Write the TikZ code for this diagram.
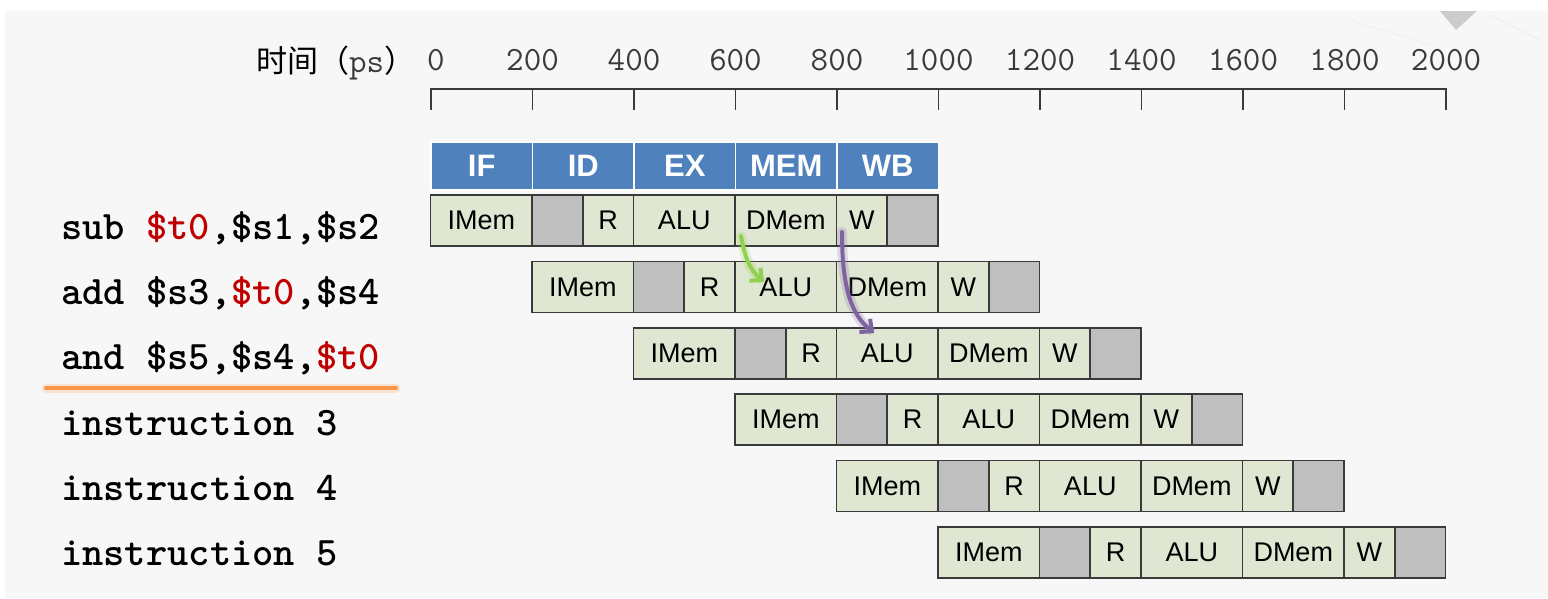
\documentclass[tikz,border=0pt]{standalone}
\usepackage{fontspec}
\setmainfont{Liberation Sans}
\newfontfamily\cjk{Noto Sans CJK SC}
\usetikzlibrary{arrows.meta}
\definecolor{bgc}{HTML}{F7F7F7}
\definecolor{cellg}{HTML}{DFE6D2}
\definecolor{cellgray}{HTML}{BFBFBF}
\definecolor{hdr}{HTML}{4F81BD}
\definecolor{regred}{HTML}{C00000}
\definecolor{arrgreen}{HTML}{92D050}
\definecolor{arrpurple}{HTML}{8064A2}
\definecolor{uline}{HTML}{F79646}
\definecolor{axisc}{HTML}{3A3A3A}
\definecolor{numc}{HTML}{3C3A36}
\begin{document}
\begin{tikzpicture}[x=1pt,y=-1pt,
  cell/.style={draw=axisc, line width=1.6pt, fill=cellg, inner sep=0pt, minimum height=51pt,
    font=\fontsize{27}{30}\selectfont, text=black},
  hcell/.style={draw=white, line width=1.5pt, fill=hdr, inner sep=0pt, minimum height=48pt,
    minimum width=101.5pt, font=\fontsize{31}{34}\selectfont\bfseries, text=white},
  instr/.style={anchor=base west, inner sep=0pt, font=\fontsize{40.5}{44}\selectfont\ttfamily\bfseries, text=black},
  ticklbl/.style={anchor=base, inner sep=0pt, font=\fontsize{34}{36}\selectfont\ttfamily, text=numc},
  axisline/.style={draw=axisc, line width=1.6pt},
  fwd/.style={line width=4pt, line cap=round, -{Straight Barb[length=9pt,width=17pt]}},
  glow/.style={line width=10pt, line cap=round, opacity=0.22}
]
% background
\fill[white] (0,0) rectangle (1548,598);
\fill[bgc] (5,11) rectangle (1548,598);
\fill[gray!40] (1440,11) -- (1477,11) -- (1456,30) -- cycle;
\draw[gray!12, line width=1pt] (1350,20) -- (1430,45);
\draw[gray!12, line width=1pt] (1490,15) -- (1540,40);

% time axis
\node[anchor=base west, inner sep=0pt, text=black] (tlabel) at (256,72)
  {{\cjk\fontsize{31}{34}\selectfont 时间（}{\fontsize{34}{36}\selectfont\ttfamily\color{numc}ps}{\cjk\fontsize{31}{34}\selectfont ）}};
\draw[axisline] (431,110) -- (431,89) -- (1446,89) -- (1446,110);
\foreach \k in {1,...,9} {
  \draw[axisline] ({431+101.5*\k},89) -- ({431+101.5*\k},110);
}
\node[ticklbl] (t0) at (436,70) {0};
\foreach \k/\v in {1/200,2/400,3/600,4/800,5/1000,6/1200,7/1400,8/1600,9/1800,10/2000} {
  \node[ticklbl] (t\k) at ({431+101.5*\k},70) {\v};
}

% header
\foreach \k/\s in {0/IF,1/ID,2/EX,3/MEM,4/WB} {
  \node[hcell] (h\k) at ({431+101.5*\k+50.75},166) {\s};
}

% pipeline rows
\foreach \i in {0,...,5} {
  \pgfmathsetmacro{\xs}{430.5+101.5*\i}
  \pgfmathsetmacro{\yc}{220.5+66.4*\i}
  \node[cell, minimum width=101.5pt] (r\i-1) at ({\xs+50.75},\yc) {IMem};
  \node[cell, minimum width=50.75pt, fill=cellgray] (r\i-2) at ({\xs+126.875},\yc) {};
  \node[cell, minimum width=50.75pt] (r\i-3) at ({\xs+177.625},\yc) {R};
  \node[cell, minimum width=101.5pt] (r\i-4) at ({\xs+253.75},\yc) {ALU};
  \node[cell, minimum width=101.5pt] (r\i-5) at ({\xs+355.25},\yc) {DMem};
  \node[cell, minimum width=50.75pt] (r\i-6) at ({\xs+431.375},\yc) {W};
  \node[cell, minimum width=50.75pt, fill=cellgray] (r\i-7) at ({\xs+482.125},\yc) {};
}

% instructions
\node[instr] (ins0) at (61,239) {sub {\color{regred}\$t0},\$s1,\$s2};
\node[instr] (ins1) at (61,304) {add \$s3,{\color{regred}\$t0},\$s4};
\node[instr] (ins2) at (61,369) {and \$s5,\$s4,{\color{regred}\$t0}};
\node[instr] (ins3) at (61,435) {instruction 3};
\node[instr] (ins4) at (61,500) {instruction 4};
\node[instr] (ins5) at (61,565) {instruction 5};

% underline
\coordinate (u1) at (46,388);
\coordinate (u2) at (396,388);
\draw[uline, line width=9pt, opacity=0.2, line cap=round] (u1) -- (u2);
\draw[uline, line width=4pt, line cap=round] (u1) -- (u2);

% forwarding arrows
\coordinate (gA) at (741,236);
\coordinate (gB) at (764,282);
\coordinate (pA) at (842,232);
\coordinate (pB) at (874,333);
\draw[arrgreen, glow] (gA) .. controls (745,258) and (750,270) .. (760,279);
\draw[arrgreen, fwd] (gA) .. controls (745,258) and (750,270) .. (gB);
\draw[arrpurple, glow] (pA) .. controls (842,290) and (852,315) .. (870,330);
\draw[arrpurple, fwd] (pA) .. controls (842,290) and (852,315) .. (pB);
\end{tikzpicture}
\end{document}
